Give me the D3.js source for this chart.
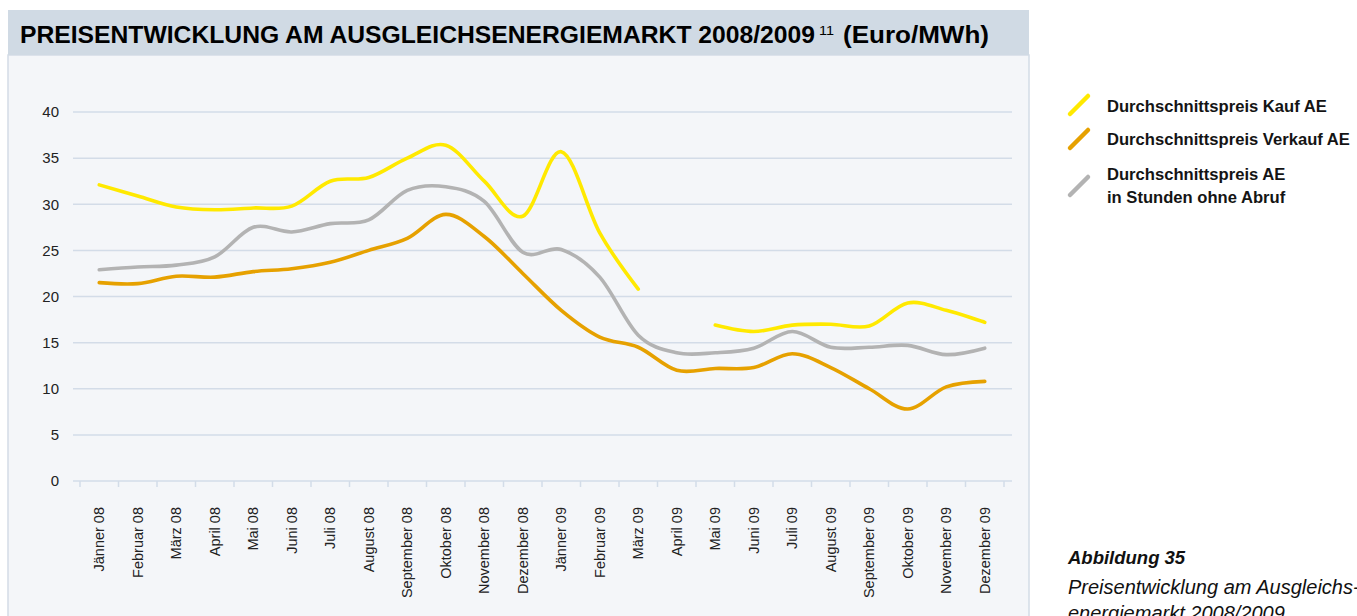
<!DOCTYPE html>
<html>
<head>
<meta charset="utf-8">
<script src="https://cdn.jsdelivr.net/npm/d3@7/dist/d3.min.js"></script>
<style>
  html, body { margin: 0; padding: 0; background: #ffffff; }
  svg { display: block; }
</style>
</head>
<body>
<svg id="chart" width="1357" height="616"></svg>
<script>
// Monthly categories, 2008–2009
const months = [
  "Jänner 08", "Februar 08", "März 08", "April 08", "Mai 08", "Juni 08",
  "Juli 08", "August 08", "September 08", "Oktober 08", "November 08", "Dezember 08",
  "Jänner 09", "Februar 09", "März 09", "April 09", "Mai 09", "Juni 09",
  "Juli 09", "August 09", "September 09", "Oktober 09", "November 09", "Dezember 09"
];

// Average price, balancing energy purchase (Euro/MWh); no value for April 09
const kaufAE = [
  32.1, 30.9, 29.7, 29.4, 29.6, 29.8, 32.5, 32.9, 35.0, 36.4, 32.5, 28.7,
  35.7, 26.9, 20.8, null, 16.9, 16.2, 16.9, 17.0, 16.8, 19.3, 18.5, 17.2
];

// Average price, balancing energy sale (Euro/MWh)
const verkaufAE = [
  21.5, 21.4, 22.2, 22.1, 22.7, 23.0, 23.7, 25.0, 26.3, 28.9, 26.5, 22.5,
  18.5, 15.6, 14.5, 12.0, 12.2, 12.3, 13.8, 12.3, 10.0, 7.8, 10.2, 10.8
];

// Average price in hours without call-off (Euro/MWh)
const ohneAbruf = [
  22.9, 23.2, 23.4, 24.3, 27.5, 27.0, 27.9, 28.3, 31.5, 31.9, 30.3, 24.8,
  25.1, 22.1, 15.8, 13.9, 13.9, 14.4, 16.2, 14.5, 14.5, 14.7, 13.7, 14.4
];

const yTicks = [0, 5, 10, 15, 20, 25, 30, 35, 40];

const series = [
  { name: "Durchschnittspreis Kauf AE", lines: ["Durchschnittspreis Kauf AE"], values: kaufAE, color: "#ffe900" },
  { name: "Durchschnittspreis Verkauf AE", lines: ["Durchschnittspreis Verkauf AE"], values: verkaufAE, color: "#e6a100" },
  { name: "Durchschnittspreis AE in Stunden ohne Abruf", lines: ["Durchschnittspreis AE", "in Stunden ohne Abruf"], values: ohneAbruf, color: "#b3b3b3" }
];

const svg = d3.select("#chart");
const font = "'Liberation Sans', Arial, sans-serif";

// Panel with header band
const panel = { x: 8, y: 10, w: 1021, h: 620, headH: 45 };
svg.append("rect")
  .attr("x", panel.x).attr("y", panel.y + panel.headH)
  .attr("width", panel.w).attr("height", panel.h)
  .attr("fill", "#f4f6f9")
  .attr("stroke", "#d3dce6").attr("stroke-width", 1.5);
svg.append("rect")
  .attr("x", panel.x).attr("y", panel.y)
  .attr("width", panel.w).attr("height", panel.headH)
  .attr("fill", "#d0dae4");

// Title
const title = svg.append("g").attr("font-family", "'Liberation Sans Narrow', 'Arial Narrow', 'Liberation Sans', Arial, sans-serif")
  .attr("fill", "#000");
title.append("text")
  .attr("x", 20).attr("y", 43)
  .attr("font-size", 23).attr("font-weight", "bold")
  .attr("textLength", 795).attr("lengthAdjust", "spacingAndGlyphs")
  .text("PREISENTWICKLUNG AM AUSGLEICHSENERGIEMARKT 2008/2009");
title.append("text")
  .attr("x", 819).attr("y", 35)
  .attr("font-size", 13)
  .attr("font-family", font)
  .attr("textLength", 15).attr("lengthAdjust", "spacingAndGlyphs")
  .text("11");
title.append("text")
  .attr("x", 843).attr("y", 43)
  .attr("font-size", 23).attr("font-weight", "bold")
  .attr("textLength", 146).attr("lengthAdjust", "spacingAndGlyphs")
  .text("(Euro/MWh)");

// Scales
const x = d3.scaleBand().domain(months).range([80, 1004]);
const y = d3.scaleLinear().domain([0, 40]).range([481, 112]);
const gridX0 = 73, gridX1 = 1012;

// Horizontal gridlines
svg.append("g")
  .selectAll("line")
  .data(yTicks)
  .join("line")
  .attr("x1", gridX0).attr("x2", gridX1)
  .attr("y1", d => y(d)).attr("y2", d => y(d))
  .attr("stroke", "#d3dce8").attr("stroke-width", 1.5);

// Y axis labels
const yAxis = svg.append("g")
  .attr("transform", `translate(${gridX0},0)`)
  .call(d3.axisLeft(y).tickValues(yTicks).tickSize(0).tickPadding(14));
yAxis.select(".domain").remove();
yAxis.selectAll("text")
  .attr("font-family", font).attr("font-size", 15).attr("fill", "#222");

// X axis: tick marks on category boundaries, labels rotated
const boundaries = months.map(m => x(m)).concat([x.range()[1]]);
svg.append("g")
  .selectAll("line")
  .data(boundaries)
  .join("line")
  .attr("x1", d => d).attr("x2", d => d)
  .attr("y1", y(0)).attr("y2", y(0) + 6)
  .attr("stroke", "#d3dce8").attr("stroke-width", 1.5);

const xAxis = svg.append("g")
  .attr("transform", `translate(0,${y(0)})`)
  .call(d3.axisBottom(x).tickSize(0).tickPadding(0));
xAxis.select(".domain").remove();
xAxis.selectAll("text")
  .attr("font-family", font).attr("font-size", 14.5).attr("fill", "#222")
  .attr("transform", "translate(0,26) rotate(-90)")
  .attr("text-anchor", "end")
  .attr("dy", "0.35em")
  .attr("x", 0).attr("y", 0);

// Series lines
const line = d3.line()
  .defined(d => d.v !== null)
  .x(d => x(d.m) + x.bandwidth() / 2)
  .y(d => y(d.v))
  .curve(d3.curveCardinal.tension(0));

const draworder = [series[2], series[1], series[0]];
svg.append("g")
  .selectAll("path")
  .data(draworder)
  .join("path")
  .attr("d", s => line(months.map((m, i) => ({ m, v: s.values[i] }))))
  .attr("fill", "none")
  .attr("stroke", s => s.color)
  .attr("stroke-width", 3.6)
  .attr("stroke-linejoin", "round")
  .attr("stroke-linecap", "round");

// Legend
const legendRows = [
  { s: series[0], top: 96, baselines: [112] },
  { s: series[1], top: 130, baselines: [145] },
  { s: series[2], top: 177, baselines: [180, 203] }
];
const legend = svg.append("g").attr("font-family", font);
legendRows.forEach(r => {
  legend.append("line")
    .attr("x1", 1070).attr("y1", r.top + 18)
    .attr("x2", 1088).attr("y2", r.top)
    .attr("stroke", r.s.color).attr("stroke-width", 4.5)
    .attr("stroke-linecap", "round");
  r.s.lines.forEach((t, i) => {
    legend.append("text")
      .attr("x", 1107).attr("y", r.baselines[i])
      .attr("font-size", 16.6).attr("font-weight", "bold").attr("fill", "#141414")
      .text(t);
  });
});

// Figure caption
const cap = svg.append("g").attr("font-family", font).attr("fill", "#111");
cap.append("text")
  .attr("x", 1068).attr("y", 564)
  .attr("font-size", 18.5).attr("font-weight", "bold").attr("font-style", "italic")
  .text("Abbildung 35");
cap.append("text")
  .attr("x", 1068).attr("y", 594)
  .attr("font-size", 20).attr("font-style", "italic")
  .text("Preisentwicklung am Ausgleichs-");
cap.append("text")
  .attr("x", 1068).attr("y", 620)
  .attr("font-size", 20).attr("font-style", "italic")
  .text("energiemarkt 2008/2009");
</script>
</body>
</html>
